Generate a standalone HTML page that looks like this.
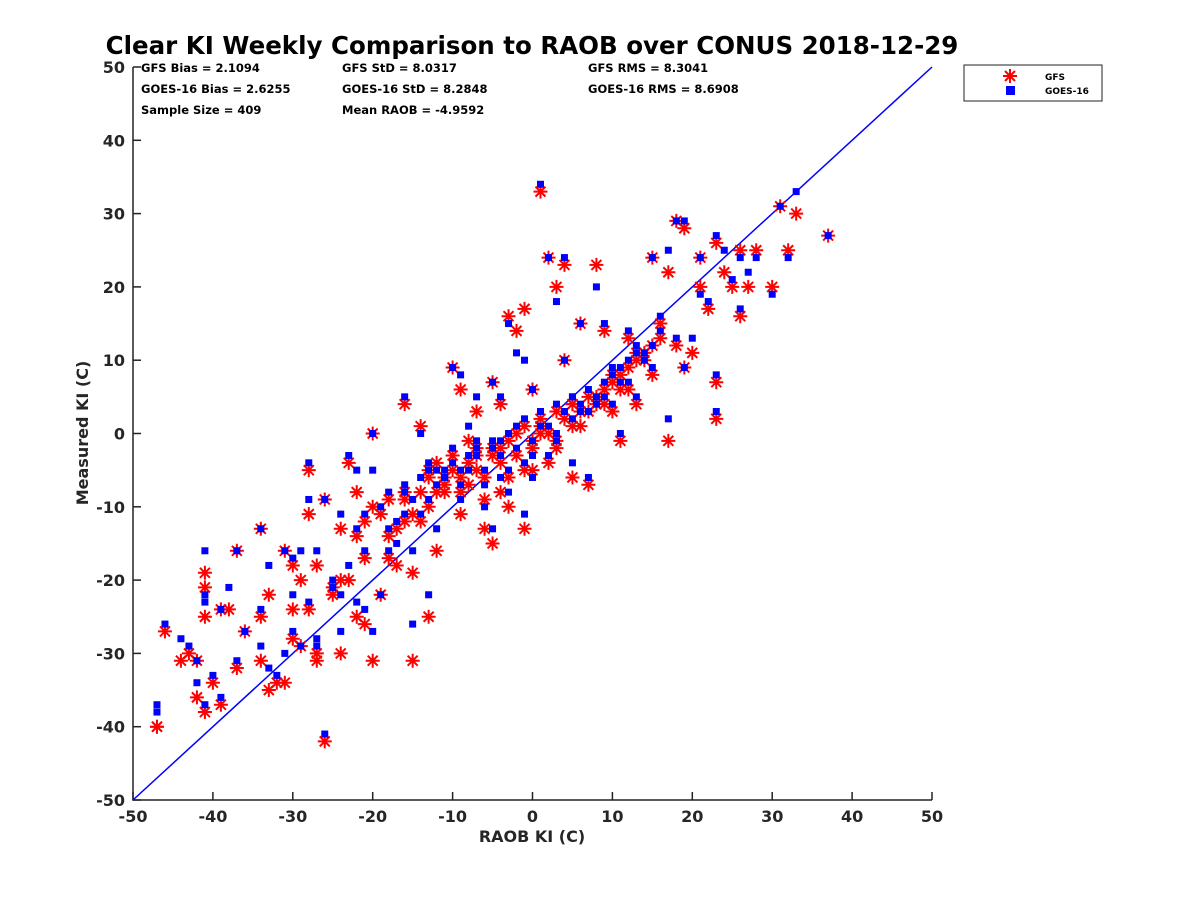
<!DOCTYPE html>
<html><head><meta charset="utf-8"><style>
body{margin:0;background:#fff;}
svg{display:block;font-family:"DejaVu Sans","Liberation Sans",sans-serif;font-weight:bold;}
</style></head><body>
<svg id="chart" width="1200" height="900" fill="#262626">
<text x="532" y="54" text-anchor="middle" font-size="24.5" fill="#000">Clear KI Weekly Comparison to RAOB over CONUS 2018-12-29</text>
<g font-size="11.5" fill="#000">
<text x="141" y="72">GFS Bias = 2.1094</text>
<text x="141" y="93">GOES-16 Bias = 2.6255</text>
<text x="141" y="114">Sample Size = 409</text>
<text x="342" y="72">GFS StD = 8.0317</text>
<text x="342" y="93">GOES-16 StD = 8.2848</text>
<text x="342" y="114">Mean RAOB = -4.9592</text>
<text x="588" y="72">GFS RMS = 8.3041</text>
<text x="588" y="93">GOES-16 RMS = 8.6908</text>
</g>
<g id="marks"></g>
<g id="axes"></g>
<text x="532" y="842" text-anchor="middle" font-size="16">RAOB KI (C)</text>
<text transform="translate(88,433) rotate(-90)" text-anchor="middle" font-size="16">Measured KI (C)</text>
<g>
<rect x="964" y="65" width="138" height="36" fill="#fff" stroke="#222" stroke-width="1"/>
<g stroke="#f00" stroke-width="2"><line x1="1010" y1="69" x2="1010" y2="83"/><line x1="1003" y1="76" x2="1017" y2="76"/><line x1="1005" y1="71" x2="1015" y2="81"/><line x1="1005" y1="81" x2="1015" y2="71"/></g>
<text x="1045" y="80" font-size="9" fill="#000">GFS</text>
<rect x="1006" y="86" width="9" height="9" fill="#00f"/>
<text x="1045" y="94" font-size="9" fill="#000">GOES-16</text>
</g>
</svg>
<script>
const xTicks=[-50,-40,-30,-20,-10,0,10,20,30,40,50];
const yTicks=[-50,-40,-30,-20,-10,0,10,20,30,40,50];
const raob=[-47,-47,-46,-44,-43,-42,-42,-41,-41,-41,-41,-40,-39,-39,-38,-37,-37,-36,-34,-34,-34,-33,-33,-32,-31,-31,-30,-30,-30,-29,-29,-28,-28,-28,-27,-27,-27,-26,-26,-25,-24,-24,-23,-23,-22,-22,-21,-21,-20,-20,-20,-19,-18,-17,-16,-16,-15,-15,-14,-14,-13,-13,-12,-11,-10,-10,-9,-9,-8,-8,-7,-7,-6,-6,-5,-5,-4,-4,-4,-3,-3,-2,-2,-1,-1,0,0,0,1,1,2,2,3,3,4,4,5,5,6,6,7,8,8,9,10,10,11,12,12,13,14,15,15,16,17,17,18,18,19,19,20,21,21,22,23,23,23,24,25,26,26,27,28,30,31,32,33,37,
-25,-24,-22,-21,-19,-18,-17,-16,-15,-14,-13,-12,-12,-11,-10,-9,-8,-7,-6,-5,-4,-3,-2,-1,0,1,2,3,4,5,6,7,8,9,10,11,12,13,14,15,16,-18,-16,-13,-11,-9,-7,-5,-3,-1,1,3,5,7,9,11,13];
const gfs=[-40,-40,-27,-31,-30,-36,-31,-38,-19,-21,-25,-34,-24,-37,-24,-32,-16,-27,-31,-25,-13,-35,-22,-34,-34,-16,-24,-28,-18,-20,-29,-11,-5,-24,-30,-31,-18,-42,-9,-22,-30,-13,-4,-20,-8,-25,-26,-17,-31,0,-10,-22,-14,-18,4,-8,-19,-31,1,-12,-25,-5,-16,-8,-3,9,6,-11,-7,-1,3,-5,-9,-13,7,-15,4,-2,-8,-10,16,14,-3,17,-13,6,-1,-5,1,33,24,-4,20,-2,23,10,4,-6,15,1,-7,23,5,14,3,8,-1,13,6,4,10,24,8,15,-1,22,29,12,9,28,11,24,20,17,26,7,2,22,20,25,16,20,25,20,31,25,30,27,
-21,-20,-14,-12,-11,-9,-13,-9,-11,-8,-6,-8,-4,-7,-5,-6,-4,-3,-6,-2,-4,-1,0,1,-2,2,0,3,2,4,3,5,4,6,7,8,9,10,11,12,13,-17,-12,-10,-6,-8,-2,-3,-6,-5,0,-1,1,3,4,6,11];
const goes=[-37,-38,-26,-28,-29,-34,-31,-37,-16,-22,-23,-33,-24,-36,-21,-31,-16,-27,-29,-24,-13,-32,-18,-33,-30,-16,-22,-27,-17,-16,-29,-9,-4,-23,-28,-29,-16,-41,-9,-20,-27,-11,-3,-18,-5,-23,-24,-16,-27,0,-5,-22,-13,-15,5,-7,-16,-26,0,-11,-22,-4,-13,-6,-2,9,8,-9,-5,1,5,-3,-7,-10,7,-13,5,-1,-6,-8,15,11,-2,10,-11,6,-3,-6,3,34,24,-3,18,-1,24,10,5,-4,15,3,-6,20,4,15,4,9,0,14,7,5,11,24,9,16,2,25,29,13,9,29,13,24,19,18,27,8,3,25,21,24,17,22,24,19,31,24,33,27,
-21,-22,-13,-11,-10,-8,-12,-8,-9,-6,-5,-7,-5,-6,-4,-5,-3,-2,-5,-1,-3,0,1,2,-1,3,1,4,3,5,4,6,5,7,8,9,10,11,10,12,14,-16,-11,-9,-5,-7,-1,-2,-5,-4,1,0,2,3,5,7,12];
const NS='http://www.w3.org/2000/svg';
const X0=133,X1=932,Y0=800,Y1=67;
function xs(v){return X0+(v+50)/100*(X1-X0);}
function ys(v){return Y0-(v+50)/100*(Y0-Y1);}
function mk(t,a,p){const e=document.createElementNS(NS,t);for(const k in a)e.setAttribute(k,a[k]);p.appendChild(e);return e;}
const marks=document.getElementById('marks'),axes=document.getElementById('axes');
const d=mk('line',{x1:xs(-50),y1:ys(-50),x2:xs(50),y2:ys(50),stroke:'#00f','stroke-width':1.5},marks);


const gg=mk('g',{stroke:'#f00','stroke-width':2},marks);


raob.forEach((r,i)=>{const cx=xs(r),cy=ys(gfs[i]);
 const p=mk('path',{d:`M${cx},${cy-7}V${cy+7}M${cx-7},${cy}H${cx+7}M${cx-5},${cy-5}L${cx+5},${cy+5}M${cx-5},${cy+5}L${cx+5},${cy-5}`},gg);
 
 });
const bg=mk('g',{fill:'#00f'},marks);


raob.forEach((r,i)=>{const cx=xs(r),cy=ys(goes[i]);
 const p=mk('rect',{x:cx-3.5,y:cy-3.5,width:7,height:7},bg);
 
 });
const ax=mk('path',{d:`M${X0},${Y1}V${Y0}H${X1}`,fill:'none',stroke:'#222','stroke-width':1.5},axes);


xTicks.forEach(v=>{const x=xs(v);
 const t=mk('line',{x1:x,y1:Y0,x2:x,y2:Y0-8,stroke:'#222','stroke-width':1.5},axes);
 
 
 const l=mk('text',{x:x,y:Y0+22,'text-anchor':'middle','font-size':16},axes);l.textContent=v;
 
 });
yTicks.forEach(v=>{const y=ys(v);
 const t=mk('line',{x1:X0,y1:y,x2:X0+8,y2:y,stroke:'#222','stroke-width':1.5},axes);
 
 
 const l=mk('text',{x:X0-8,y:y+6,'text-anchor':'end','font-size':16},axes);l.textContent=v;
 
 });
</script>
</body></html>
